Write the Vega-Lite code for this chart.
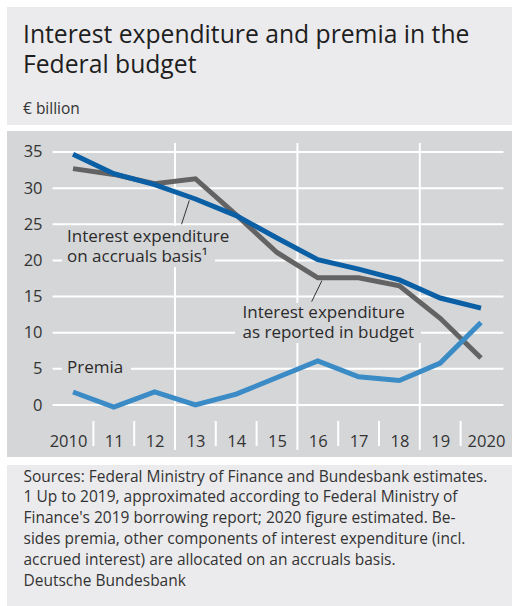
{
  "$schema": "https://vega.github.io/schema/vega-lite/v6.json",
  "width": 505,
  "height": 326,
  "autosize": {"type": "none"},
  "padding": {"left": 7, "top": 131, "right": 0, "bottom": 149},
  "background": "white",
  "view": {"fill": "#d5d6d8", "stroke": null},
  "config": {
    "font": "Open Sans",
    "text": {"font": "Open Sans"}
  },
  "title": {
    "text": ["Interest expenditure and premia in the", "Federal budget"],
    "subtitle": "€ billion",
    "anchor": "start",
    "frame": "group",
    "dx": 16,
    "offset": -111,
    "font": "Open Sans",
    "fontSize": 24.7,
    "fontWeight": "normal",
    "color": "#1e1e1e",
    "lineHeight": 30,
    "subtitleFont": "Open Sans",
    "subtitleFontSize": 15.5,
    "subtitleColor": "#333333",
    "subtitlePadding": 25,
    "zindex": 1
  },
  "datasets": {
    "series": [
      {"year": 2010, "value": 34.7, "series": "accruals"},
      {"year": 2011, "value": 32.0, "series": "accruals"},
      {"year": 2012, "value": 30.5, "series": "accruals"},
      {"year": 2013, "value": 28.5, "series": "accruals"},
      {"year": 2014, "value": 26.2, "series": "accruals"},
      {"year": 2015, "value": 23.1, "series": "accruals"},
      {"year": 2016, "value": 20.1, "series": "accruals"},
      {"year": 2017, "value": 18.8, "series": "accruals"},
      {"year": 2018, "value": 17.3, "series": "accruals"},
      {"year": 2019, "value": 14.8, "series": "accruals"},
      {"year": 2020, "value": 13.4, "series": "accruals"},
      {"year": 2010, "value": 32.7, "series": "budget"},
      {"year": 2011, "value": 31.9, "series": "budget"},
      {"year": 2012, "value": 30.6, "series": "budget"},
      {"year": 2013, "value": 31.3, "series": "budget"},
      {"year": 2014, "value": 26.3, "series": "budget"},
      {"year": 2015, "value": 21.1, "series": "budget"},
      {"year": 2016, "value": 17.6, "series": "budget"},
      {"year": 2017, "value": 17.6, "series": "budget"},
      {"year": 2018, "value": 16.5, "series": "budget"},
      {"year": 2019, "value": 12.0, "series": "budget"},
      {"year": 2020, "value": 6.5, "series": "budget"},
      {"year": 2010, "value": 1.8, "series": "premia"},
      {"year": 2011, "value": -0.3, "series": "premia"},
      {"year": 2012, "value": 1.8, "series": "premia"},
      {"year": 2013, "value": 0.0, "series": "premia"},
      {"year": 2014, "value": 1.5, "series": "premia"},
      {"year": 2015, "value": 3.8, "series": "premia"},
      {"year": 2016, "value": 6.1, "series": "premia"},
      {"year": 2017, "value": 3.9, "series": "premia"},
      {"year": 2018, "value": 3.4, "series": "premia"},
      {"year": 2019, "value": 5.8, "series": "premia"},
      {"year": 2020, "value": 11.4, "series": "premia"}
    ],
    "hgrid": [
      {"value": 0}, {"value": 5}, {"value": 10}, {"value": 15},
      {"value": 20}, {"value": 25}, {"value": 30}, {"value": 35}
    ],
    "vgrid": [{"year": 2012.5}, {"year": 2015.5}, {"year": 2018.5}],
    "vticks": [
      {"year": 2010.5}, {"year": 2011.5}, {"year": 2013.5}, {"year": 2014.5},
      {"year": 2016.5}, {"year": 2017.5}, {"year": 2019.5}
    ],
    "labels": [
      {"text": "Interest expenditure", "year": 2009.853, "value": 23.28},
      {"text": "on accruals basis¹", "year": 2009.853, "value": 20.51},
      {"text": "Interest expenditure", "year": 2014.154, "value": 12.77},
      {"text": "as reported in budget", "year": 2014.154, "value": 9.92},
      {"text": "Premia", "year": 2009.853, "value": 5.08}
    ],
    "leaders": [
      {"year": 2012.85, "value": 28.3, "year2": 2012.66, "value2": 25.0},
      {"year": 2016.1, "value": 17.2, "year2": 2015.85, "value2": 14.3}
    ]
  },
  "layer": [
    {
      "data": {"values": [{}]},
      "mark": {"type": "rect", "fill": "#ebebed", "clip": false},
      "encoding": {
        "x": {"datum": 2008.382, "type": "quantitative", "scale": {"domain": [2008.382, 2020.76], "nice": false, "zero": false}},
        "x2": {"datum": 2020.76},
        "y": {"datum": 55.06, "type": "quantitative", "title": null, "scale": {"domain": [-7.193, 37.905], "nice": false, "zero": false}},
        "y2": {"datum": 38.735}
      }
    },
    {
      "data": {"values": [{}]},
      "mark": {"type": "rect", "fill": "#ebebed", "clip": false},
      "encoding": {
        "x": {"datum": 2008.382, "type": "quantitative"},
        "x2": {"datum": 2020.76},
        "y": {"datum": -8.3, "type": "quantitative", "title": null},
        "y2": {"datum": -27.8}
      }
    },
    {
      "data": {"name": "hgrid"},
      "mark": {"type": "rule", "color": "white", "strokeWidth": 2},
      "encoding": {
        "x": {"datum": 2009.5, "type": "quantitative"},
        "x2": {"datum": 2020.55},
        "y": {"field": "value", "type": "quantitative", "title": null}
      }
    },
    {
      "data": {"name": "vgrid"},
      "mark": {"type": "rule", "color": "white", "strokeWidth": 2},
      "encoding": {
        "x": {"field": "year", "type": "quantitative"},
        "y": {"datum": 36.24, "type": "quantitative", "title": null},
        "y2": {"datum": -6.22}
      }
    },
    {
      "data": {"name": "vticks"},
      "mark": {"type": "rule", "color": "white", "strokeWidth": 2},
      "encoding": {
        "x": {"field": "year", "type": "quantitative"},
        "y": {"datum": -2.21, "type": "quantitative", "title": null},
        "y2": {"datum": -5.67}
      }
    },
    {
      "data": {"values": [{}]},
      "mark": {"type": "rect", "fill": "#d5d6d8"},
      "encoding": {
        "x": {"datum": 2009.73, "type": "quantitative"},
        "x2": {"datum": 2013.971},
        "y": {"datum": 24.76, "type": "quantitative", "title": null},
        "y2": {"datum": 21.72}
      }
    },
    {
      "data": {"values": [{}]},
      "mark": {"type": "rect", "fill": "#d5d6d8"},
      "encoding": {
        "x": {"datum": 2009.73, "type": "quantitative"},
        "x2": {"datum": 2013.48},
        "y": {"datum": 21.72, "type": "quantitative", "title": null},
        "y2": {"datum": 19.09}
      }
    },
    {
      "data": {"values": [{}]},
      "mark": {"type": "rect", "fill": "#d5d6d8"},
      "encoding": {
        "x": {"datum": 2013.971, "type": "quantitative"},
        "x2": {"datum": 2018.529},
        "y": {"datum": 14.11, "type": "quantitative", "title": null},
        "y2": {"datum": 8.58}
      }
    },
    {
      "data": {"values": [{}]},
      "mark": {"type": "rect", "fill": "#d5d6d8"},
      "encoding": {
        "x": {"datum": 2009.73, "type": "quantitative"},
        "x2": {"datum": 2011.422},
        "y": {"datum": 6.36, "type": "quantitative", "title": null},
        "y2": {"datum": 3.73}
      }
    },
    {
      "data": {"name": "leaders"},
      "mark": {"type": "rule", "color": "#333333", "strokeWidth": 1},
      "encoding": {
        "x": {"field": "year", "type": "quantitative"},
        "y": {"field": "value", "type": "quantitative", "title": null},
        "x2": {"field": "year2"},
        "y2": {"field": "value2"}
      }
    },
    {
      "data": {"name": "series"},
      "transform": [{"filter": "datum.series == 'budget'"}],
      "mark": {"type": "line", "color": "#636364", "strokeWidth": 5},
      "encoding": {
        "x": {
          "field": "year",
          "type": "quantitative",
          "scale": {"domain": [2008.382, 2020.76], "nice": false, "zero": false},
          "axis": {
            "values": [2010, 2011, 2012, 2013, 2014, 2015, 2016, 2017, 2018, 2019, 2020],
            "format": "d",
            "labelExpr": "datum.value == 2010 || datum.value == 2020 ? datum.label : substring(datum.label, 2)",
            "domain": false,
            "ticks": false,
            "tickSize": 0,
            "grid": false,
            "labelPadding": -11,
            "labelBaseline": "alphabetic",
            "labelFont": "Open Sans",
            "labelFontSize": 16.5,
            "labelColor": "#333333",
            "labelFlush": false,
            "labelOverlap": false,
            "labelOffset": {"condition": [{"test": "datum.value == 2010", "value": -5}, {"test": "datum.value == 2020", "value": 5}], "value": 0},
            "title": [
              "Sources: Federal Ministry of Finance and Bundesbank estimates.",
              "1 Up to 2019, approximated according to Federal Ministry of",
              "Finance's 2019 borrowing report; 2020 figure estimated. Be-",
              "sides premia, other components of interest expenditure (incl.",
              "accrued interest) are allocated on an accruals basis.",
              "Deutsche Bundesbank"
            ],
            "titleFont": "Open Sans",
            "titleFontSize": 15.5,
            "titleFontWeight": "normal",
            "titleColor": "#333333",
            "titleAnchor": "start",
            "titleAlign": "left",
            "titleBaseline": "alphabetic",
            "titleX": 16,
            "titleY": 24,
            "titleLineHeight": 20.9,
            "zindex": 1
          }
        },
        "y": {
          "field": "value",
          "type": "quantitative",
          "title": null,
          "scale": {"domain": [-7.193, 37.905], "nice": false, "zero": false},
          "axis": {
            "values": [0, 5, 10, 15, 20, 25, 30, 35],
            "domain": false,
            "ticks": false,
            "tickSize": 0,
            "grid": false,
            "labelAlign": "right",
            "labelBaseline": "middle",
            "labelPadding": -35,
            "labelFont": "Open Sans",
            "labelFontSize": 16.5,
            "labelColor": "#333333",
            "zindex": 1
          }
        }
      }
    },
    {
      "data": {"name": "series"},
      "transform": [{"filter": "datum.series == 'premia'"}],
      "mark": {"type": "line", "color": "#3a8bc6", "strokeWidth": 5},
      "encoding": {
        "x": {"field": "year", "type": "quantitative"},
        "y": {"field": "value", "type": "quantitative", "title": null}
      }
    },
    {
      "data": {"name": "series"},
      "transform": [{"filter": "datum.series == 'accruals'"}],
      "mark": {"type": "line", "color": "#0b5fa5", "strokeWidth": 5},
      "encoding": {
        "x": {"field": "year", "type": "quantitative"},
        "y": {"field": "value", "type": "quantitative", "title": null}
      }
    },
    {
      "data": {"name": "labels"},
      "mark": {"type": "text", "align": "left", "baseline": "middle", "font": "Open Sans", "fontSize": 17, "fill": "#2b2b2b"},
      "encoding": {
        "x": {"field": "year", "type": "quantitative"},
        "y": {"field": "value", "type": "quantitative", "title": null},
        "text": {"field": "text"}
      }
    }
  ]
}
